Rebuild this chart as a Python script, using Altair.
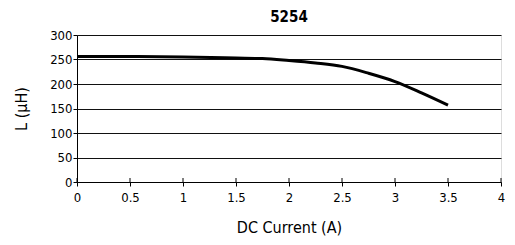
import altair as alt
import pandas as pd

current = [0, 0.5, 1.0, 1.5, 1.75, 2.0, 2.25, 2.5, 2.75, 3.0, 3.25, 3.5]
inductance = [256, 256, 255, 253, 252, 248, 243, 236, 222, 205, 182, 157]
xticks = [0, 0.5, 1, 1.5, 2, 2.5, 3, 3.5, 4]
yticks = [0, 50, 100, 150, 200, 250, 300]

df = pd.DataFrame({"x": current, "y": inductance})
tk = pd.DataFrame({"x": xticks})

FONT = "'DejaVu Sans Condensed', 'Roboto Condensed', Roboto, sans-serif"

xs = alt.Scale(domain=[0, 4], nice=False)
ys = alt.Scale(domain=[0, 300], nice=False)

line = alt.Chart(df).mark_line(color="black", strokeWidth=3, interpolate="monotone").encode(
    x=alt.X("x:Q", scale=xs,
            axis=alt.Axis(values=xticks, format="~g", title="DC Current (A)", grid=False,
                          labelFontSize=13, titleFontSize=16, titleFontWeight="normal",
                          labelColor="black", titleColor="black", domainColor="black",
                          tickColor="black", tickSize=4, labelPadding=5, titlePadding=15,
                          labelFont=FONT, titleFont=FONT, labelFlush=False)),
    y=alt.Y("y:Q", scale=ys,
            axis=alt.Axis(values=yticks, title="L (μH)", grid=True, gridColor="#111",
                          gridOpacity=1, gridWidth=1,
                          labelFontSize=13, titleFontSize=16, titleFontWeight="normal",
                          labelColor="black", titleColor="black", domainColor="black",
                          tickColor="black", tickSize=4, labelPadding=1, titlePadding=20,
                          labelFont=FONT, titleFont=FONT, labelFlush=False)),
)

inner = alt.Chart(tk).mark_rule(color="black", strokeWidth=1).encode(
    x=alt.X("x:Q", scale=xs),
    y=alt.value(147),
    y2=alt.value(143),
)

chart = alt.layer(inner, line).properties(
    width=424, height=147,
    title=alt.Title("5254", font=FONT, fontSize=15, fontWeight="bold", color="black", offset=4),
    autosize=alt.AutoSizeParams(type="none"),
    padding={"left": 69, "top": 27, "right": 6, "bottom": 55},
).configure_view(stroke="black", strokeWidth=1).configure(background="white")

chart.save("out.html", embed_options={"renderer": "svg", "actions": False})
